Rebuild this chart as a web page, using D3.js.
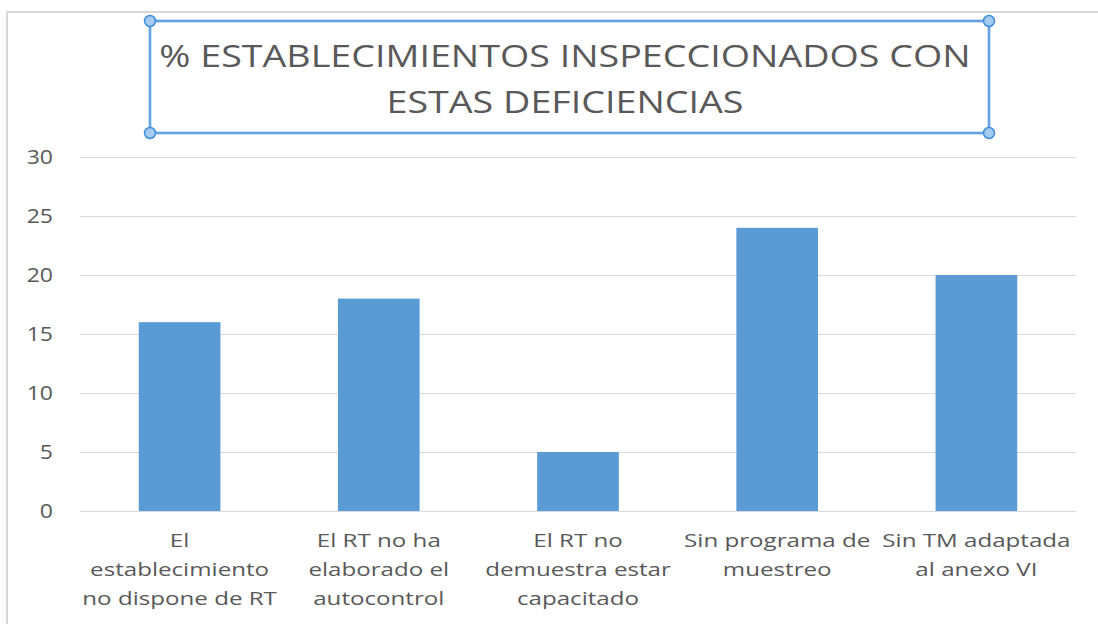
<!DOCTYPE html>
<html><head><meta charset="utf-8">
<script src="https://cdn.jsdelivr.net/npm/d3@7"></script>
<style>body{margin:0;background:#fff}svg{display:block}</style>
</head><body>
<svg id="c" width="1098" height="624"></svg>
<script>
const categories = [
  ["El", "establecimiento", "no dispone de RT"],
  ["El RT no ha", "elaborado el", "autocontrol"],
  ["El RT no", "demuestra estar", "capacitado"],
  ["Sin programa de", "muestreo"],
  ["Sin TM adaptada", "al anexo VI"]
];
const values = [16, 18, 5, 24, 20];
const yTicks = [0, 5, 10, 15, 20, 25, 30];
const titleLines = ["% ESTABLECIMIENTOS INSPECCIONADOS CON", "ESTAS DEFICIENCIAS"];

const svg = d3.select("#c");
const font = "'Open Sans', 'Noto Sans', sans-serif";
const textColor = "#595959";

// outer frame
svg.append("path").attr("d", "M7,624 V12 H1098")
  .attr("fill", "none").attr("stroke", "#d9d9d9").attr("stroke-width", 2);

const m = {left: 80, right: 1076, top: 157, bottom: 511};
const x = d3.scaleBand().domain(d3.range(categories.length)).range([m.left, m.right]).paddingInner(0.59).paddingOuter(0.295);
const y = d3.scaleLinear().domain([0, 30]).range([m.bottom, m.top]);

function stretchText(sel, k) {
  sel.each(function() {
    const len = this.getComputedTextLength();
    d3.select(this).attr("textLength", len * k).attr("lengthAdjust", "spacingAndGlyphs");
  });
}

// gridlines
svg.append("g").selectAll("line").data(yTicks).join("line")
  .attr("x1", m.left).attr("x2", m.right)
  .attr("y1", d => y(d) + 0.5).attr("y2", d => y(d) + 0.5)
  .attr("stroke", "#d9d9d9").attr("stroke-width", 1.2);

// y labels
svg.append("g").selectAll("text").data(yTicks).join("text")
  .attr("x", 53).attr("y", d => y(d) + 7)
  .attr("text-anchor", "end").attr("font-family", font).attr("font-size", 19.5)
  .attr("fill", textColor).text(d => d)
  .call(stretchText, 1.18);

// bars
svg.append("g").selectAll("rect").data(values).join("rect")
  .attr("x", (d, i) => x(i)).attr("width", x.bandwidth())
  .attr("y", d => y(d)).attr("height", d => y(0) - y(d))
  .attr("fill", "#5b9bd5");

// category labels
const cl = svg.append("g").selectAll("g").data(categories).join("g")
  .attr("transform", (d, i) => `translate(${x(i) + x.bandwidth() / 2},0)`);
cl.selectAll("text").data(d => d).join("text")
  .attr("x", 0).attr("y", (d, j) => 547 + j * 29)
  .attr("text-anchor", "middle").attr("font-family", font).attr("font-size", 19)
  .attr("fill", textColor).text(d => d)
  .call(stretchText, 1.27);

// title box
const box = {x0: 150, x1: 989, y0: 21, y1: 133};
svg.append("rect").attr("x", box.x0).attr("y", box.y0)
  .attr("width", box.x1 - box.x0).attr("height", box.y1 - box.y0)
  .attr("fill", "none").attr("stroke", "#9cc3ea").attr("stroke-width", 3);
svg.append("rect").attr("x", box.x0).attr("y", box.y0)
  .attr("width", box.x1 - box.x0).attr("height", box.y1 - box.y0)
  .attr("fill", "none").attr("stroke", "#3b8ede").attr("stroke-width", 1.2);
const corners = [[box.x0, box.y0], [box.x1, box.y0], [box.x0, box.y1], [box.x1, box.y1]];
svg.append("g").selectAll("circle").data(corners).join("circle")
  .attr("cx", d => d[0]).attr("cy", d => d[1]).attr("r", 5.5)
  .attr("fill", "#a6cbef").attr("stroke", "#3b8ede").attr("stroke-width", 1.5);

svg.append("g").selectAll("text").data(titleLines).join("text")
  .attr("x", 565).attr("y", (d, i) => 67 + i * 46)
  .attr("text-anchor", "middle").attr("font-family", font).attr("font-size", 31)
  .attr("fill", textColor).text(d => d)
  .call(stretchText, 1.215);
</script>
</body></html>
